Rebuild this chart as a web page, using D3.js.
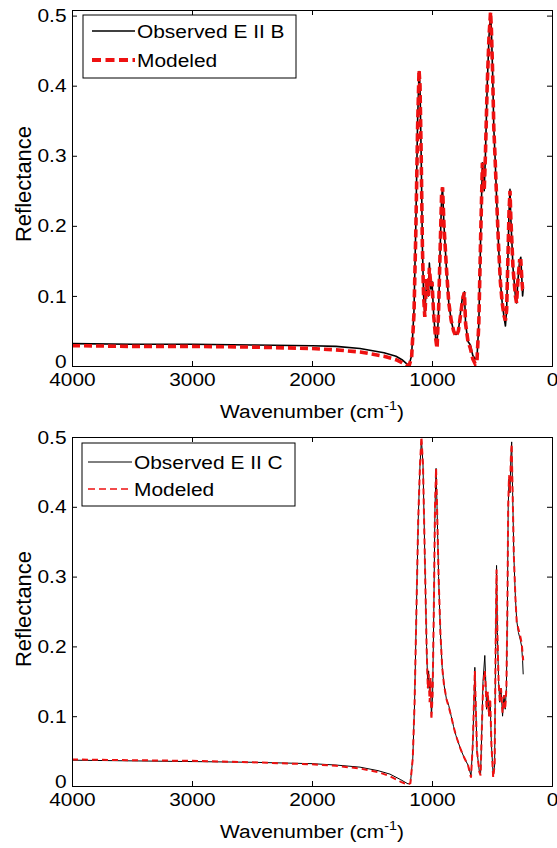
<!DOCTYPE html>
<html>
<head>
<meta charset="utf-8">
<script src="https://cdn.jsdelivr.net/npm/d3@7"></script>
<style>
  body { margin: 0; background: #fff; }
  svg { display: block; font-family: "Liberation Sans", Arial, sans-serif; }
</style>
</head>
<body>
<script>
// top panel: E II B
var wnB = [4000,3500,3000,2500,2000,1800,1600,1400,1300,1250,1210,1190,1170,1150,1135,
  1120,1108,1100,1090,1080,1070,1060,1045,1030,1022,1010,1000,985,970,958,
  945,930,920,912,900,880,860,840,820,800,780,760,745,730,720,
  700,680,660,640,625,610,595,580,572,565,555,540,525,512,505,
  495,485,475,461,445,430,415,400,388,378,368,358,350,343,335,
  325,315,305,295,285,270,260,250,245,240];
var obsB = [0.032,0.031,0.031,0.030,0.029,0.028,0.025,0.019,0.014,0.009,0.003,0.002,0.015,0.08,0.2,
  0.35,0.42,0.40,0.30,0.17,0.10,0.075,0.12,0.10,0.147,0.11,0.12,0.07,0.04,0.03,
  0.08,0.18,0.24,0.254,0.2,0.14,0.09,0.065,0.05,0.045,0.05,0.08,0.10,0.106,0.06,
  0.035,0.03,0.015,0.01,0.012,0.06,0.18,0.29,0.27,0.25,0.30,0.40,0.47,0.503,0.48,
  0.42,0.34,0.30,0.237,0.17,0.12,0.09,0.07,0.057,0.08,0.15,0.22,0.252,0.21,0.18,
  0.14,0.12,0.10,0.09,0.12,0.15,0.155,0.12,0.10,0.11];
var modB = [0.029,0.028,0.028,0.027,0.025,0.023,0.020,0.014,0.009,0.005,0.001,0.001,0.012,0.075,0.19,
  0.34,0.422,0.40,0.30,0.17,0.10,0.07,0.125,0.10,0.14,0.115,0.12,0.07,0.04,0.025,
  0.08,0.18,0.245,0.255,0.2,0.14,0.09,0.065,0.05,0.042,0.05,0.075,0.095,0.105,0.06,
  0.035,0.025,0.01,0.003,0.008,0.06,0.18,0.29,0.27,0.25,0.30,0.40,0.47,0.505,0.48,
  0.42,0.34,0.30,0.237,0.17,0.12,0.09,0.072,0.065,0.08,0.15,0.22,0.25,0.21,0.18,
  0.14,0.12,0.10,0.09,0.12,0.15,0.15,0.12,0.11,0.11];

// bottom panel: E II C
var wnC = [4000,3500,3000,2500,2000,1800,1600,1450,1350,1260,1200,1180,1160,1145,1130,
  1115,1100,1088,1075,1060,1045,1035,1028,1020,1012,1005,995,985,975,966,
  958,945,930,915,900,880,860,840,820,800,780,760,730,700,675,
  660,643,636,625,605,595,585,575,560,552,545,535,525,515,505,
  490,478,470,462,455,445,435,425,412,400,390,380,372,365,358,
  350,343,336,328,318,305,294,280,265,253,245,240];
var obsC = [0.037,0.036,0.035,0.034,0.032,0.030,0.027,0.022,0.017,0.009,0.003,0.004,0.04,0.12,0.25,
  0.38,0.46,0.497,0.46,0.33,0.20,0.14,0.165,0.13,0.15,0.10,0.13,0.25,0.40,0.455,
  0.40,0.30,0.22,0.17,0.145,0.125,0.115,0.10,0.085,0.072,0.062,0.052,0.04,0.03,0.015,
  0.06,0.17,0.12,0.05,0.02,0.018,0.08,0.15,0.187,0.15,0.11,0.13,0.10,0.12,0.06,
  0.015,0.03,0.20,0.316,0.22,0.15,0.12,0.14,0.10,0.13,0.11,0.14,0.25,0.40,0.44,
  0.42,0.47,0.493,0.42,0.33,0.27,0.237,0.22,0.21,0.20,0.18,0.16];
var modC = [0.038,0.037,0.036,0.034,0.031,0.029,0.025,0.020,0.014,0.006,0.002,0.004,0.04,0.12,0.25,
  0.38,0.46,0.5,0.46,0.33,0.20,0.14,0.16,0.12,0.155,0.095,0.13,0.25,0.40,0.455,
  0.40,0.30,0.22,0.17,0.145,0.125,0.113,0.10,0.085,0.072,0.062,0.052,0.04,0.03,0.012,
  0.06,0.165,0.12,0.05,0.02,0.015,0.08,0.14,0.165,0.14,0.11,0.135,0.10,0.125,0.06,
  0.012,0.03,0.20,0.31,0.22,0.15,0.12,0.14,0.105,0.13,0.11,0.14,0.25,0.40,0.445,
  0.42,0.47,0.49,0.42,0.33,0.27,0.235,0.225,0.215,0.205,0.19,0.18];

var xTicks = [4000, 3000, 2000, 1000, 0];
var yTicks = [0, 0.1, 0.2, 0.3, 0.4, 0.5];

var W = 557, H = 848;
var left = 72, right = 552;
var stretch = "scale(1.1,1)";
var red = "#ee1111";

var svg = d3.select("body").append("svg").attr("width", W).attr("height", H);

var x = d3.scaleLinear().domain([4000, 0]).range([left, right]);

function panel(p) {
  var y = d3.scaleLinear().domain([0, p.ymax]).range([p.bottom, p.top]);
  var g = svg.append("g");

  g.append("clipPath").attr("id", p.id).append("rect")
    .attr("x", left).attr("y", p.top).attr("width", right - left).attr("height", p.bottom - p.top);

  var line = d3.line().x(function(d){ return x(d[0]); }).y(function(d){ return y(d[1]); });
  var obs = p.wn.map(function(w, i){ return [w, p.obs[i]]; });
  var mod = p.wn.map(function(w, i){ return [w, p.mod[i]]; });

  g.append("path").datum(obs).attr("clip-path", "url(#" + p.id + ")")
    .attr("d", line).attr("fill", "none").attr("stroke", "#000")
    .attr("stroke-width", p.obsW).attr("stroke-linejoin", "round");
  g.append("path").datum(mod).attr("clip-path", "url(#" + p.id + ")")
    .attr("d", line).attr("fill", "none").attr("stroke", red)
    .attr("stroke-width", p.modW).attr("stroke-dasharray", p.dash);

  // axes, ticks pointing inward like matlab
  var fmt = function(d){ return d === 0 ? "0" : d3.format(".1f")(d); };
  var ax = [
    g.append("g").attr("transform", "translate(0," + p.bottom + ")")
      .call(d3.axisBottom(x).tickValues(xTicks).tickSize(-5).tickPadding(7).tickFormat(d3.format("d"))),
    g.append("g").attr("transform", "translate(0," + p.top + ")")
      .call(d3.axisTop(x).tickValues(xTicks).tickSize(-5).tickFormat("")),
    g.append("g").attr("transform", "translate(" + left + ",0)")
      .call(d3.axisLeft(y).tickValues(yTicks).tickSize(-5).tickPadding(5).tickFormat(fmt)),
    g.append("g").attr("transform", "translate(" + right + ",0)")
      .call(d3.axisRight(y).tickValues(yTicks).tickSize(-5).tickFormat(""))
  ];
  ax.forEach(function(a){
    a.select(".domain").attr("stroke", "#000").attr("stroke-width", 1);
    a.selectAll("line").attr("stroke", "#000");
    a.selectAll("text").attr("font-size", 19).attr("fill", "#000")
      .attr("font-family", "Liberation Sans, Arial, sans-serif").attr("transform", stretch);
  });
  // the zero label sits a little higher, above the 4000 label
  ax[2].selectAll(".tick text").filter(function(d){ return d === 0; }).attr("dy", "0.1em");

  // axis titles
  var xl = g.append("text").attr("transform", "translate(" + ((left + right) / 2) + "," + p.xlabY + ") " + stretch)
    .attr("text-anchor", "middle").attr("font-size", 19);
  xl.append("tspan").text("Wavenumber (cm");
  xl.append("tspan").attr("font-size", 13).attr("dy", -8).text("-1");
  xl.append("tspan").attr("dy", 8).text(")");

  g.append("text").attr("transform", "translate(31," + p.ylabY + ") rotate(-90)")
    .attr("text-anchor", "middle").attr("font-size", 22).text("Reflectance");

  // legend
  var lg = g.append("g").attr("transform", "translate(" + p.leg[0] + "," + p.leg[1] + ")");
  lg.append("rect").attr("width", 213).attr("height", 63)
    .attr("fill", "#fff").attr("stroke", "#000").attr("stroke-width", 1);
  var rows = [
    { label: p.title, color: "#000", w: p.obsW, dash: null, ry: p.rowY[0] },
    { label: "Modeled", color: red, w: p.legModW, dash: p.legDash, ry: p.rowY[1] }
  ];
  rows.forEach(function(r){
    lg.append("line").attr("x1", p.sample[0]).attr("x2", p.sample[1])
      .attr("y1", r.ry).attr("y2", r.ry).attr("stroke", r.color)
      .attr("stroke-width", r.w).attr("stroke-dasharray", r.dash);
    lg.append("text").attr("transform", "translate(" + (p.sample[1] + 2) + "," + (r.ry + 7) + ") " + stretch)
      .attr("font-size", 19).text(r.label);
  });
}

panel({ id: "clipB", top: 10, bottom: 366, ymax: 0.508, wn: wnB, obs: obsB, mod: modB,
  obsW: 1.6, modW: 3.6, dash: "8,4", legModW: 4, legDash: "9,4.5",
  title: "Observed E II B", xlabY: 418, ylabY: 184,
  leg: [83, 15], rowY: [16, 45], sample: [9, 52] });

panel({ id: "clipC", top: 437, bottom: 786, ymax: 0.5, wn: wnC, obs: obsC, mod: modC,
  obsW: 1, modW: 2, dash: "6,4", legModW: 1.6, legDash: "7,4",
  title: "Observed E II C", xlabY: 838, ylabY: 609,
  leg: [82, 443], rowY: [19, 46], sample: [6, 50] });
</script>
</body>
</html>
